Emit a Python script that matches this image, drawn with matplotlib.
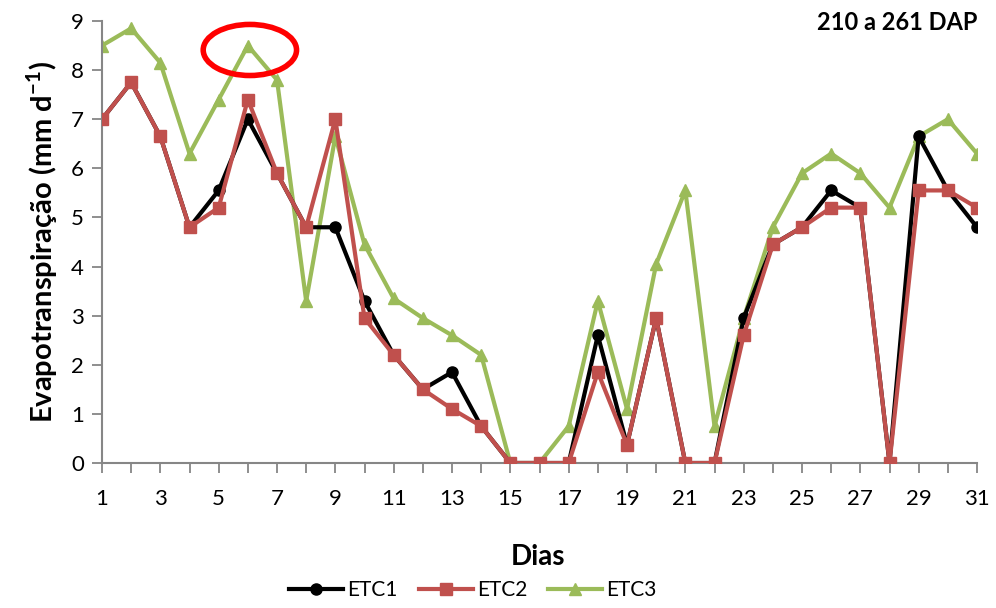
import matplotlib
matplotlib.use("Agg")
import matplotlib.pyplot as plt
from matplotlib.patches import Ellipse

plt.rcParams['font.family'] = ['Lato', 'DejaVu Sans']
plt.rcParams['mathtext.fontset'] = 'custom'
plt.rcParams['mathtext.rm'] = 'Lato'
plt.rcParams['mathtext.bf'] = 'Lato:bold'

dias = list(range(1, 32))
etc1 = [7.0, 7.75, 6.65, 4.8, 5.55, 7.0, 5.9, 4.8, 4.8, 3.3, 2.2, 1.5, 1.85, 0.75, 0, 0, 0,
        2.6, 0.37, 2.95, 0, 0, 2.95, 4.45, 4.8, 5.55, 5.2, 0, 6.65, 5.55, 4.8]
etc2 = [7.0, 7.75, 6.65, 4.8, 5.2, 7.4, 5.9, 4.8, 7.0, 2.95, 2.2, 1.5, 1.1, 0.75, 0, 0, 0,
        1.85, 0.37, 2.95, 0, 0, 2.6, 4.45, 4.8, 5.2, 5.2, 0, 5.55, 5.55, 5.2]
etc3 = [8.5, 8.85, 8.15, 6.3, 7.4, 8.5, 7.8, 3.3, 6.65, 4.45, 3.35, 2.95, 2.6, 2.2, 0, 0, 0.75,
        3.3, 1.1, 4.05, 5.55, 0.75, 2.95, 4.8, 5.9, 6.3, 5.9, 5.2, 6.65, 7.0, 6.3]
series_names = ["ETC1", "ETC2", "ETC3"]
yticks = list(range(0, 10))

fig = plt.figure(figsize=(9.96, 6.08), dpi=100)
ax = fig.add_axes([102/996, 1-463/608, (977-102)/996, (463-21)/608])

ax.plot(dias, etc1, color='black', lw=3, marker='o', ms=8, label=series_names[0], zorder=3)
ax.plot(dias, etc2, color='#C0504D', lw=3, marker='s', ms=9, label=series_names[1], zorder=4)
ax.plot(dias, etc3, color='#9BBB59', lw=3, marker='^', ms=9, label=series_names[2], zorder=2)

ax.add_patch(Ellipse((6.07, 8.41), 3.2, 1.04, fill=False, edgecolor='red', lw=4, zorder=5))

ax.set_xlim(1, 31)
ax.set_ylim(0, 9)
ax.set_xticks(dias)
ax.set_xticklabels([str(d) if d % 2 == 1 else '' for d in dias], fontsize=16)
ax.set_yticks(yticks)
ax.set_yticklabels([str(v) for v in yticks], fontsize=16)
ax.tick_params(axis='both', direction='out', length=7, color='#868686', width=1.3)
ax.tick_params(axis='x', pad=12)
ax.tick_params(axis='y', pad=6)
for s in ['top', 'right']:
    ax.spines[s].set_visible(False)
for s in ['left', 'bottom']:
    ax.spines[s].set_color('#868686')
    ax.spines[s].set_linewidth(1.5)
for s in ax.get_xticklabels() + ax.get_yticklabels():
    s.set_clip_on(False)

ax.set_ylabel('Evapotranspiração (mm d$^{\\mathbf{-1}}$)', fontsize=21, fontweight='bold', labelpad=8)
fig.text(0.54, 1-557/608, 'Dias', fontsize=20, fontweight='bold', ha='center', va='center')
fig.text(977/996, 1-22/608, '210 a 261 DAP', fontsize=17, fontweight='bold', ha='right', va='center')

fig.legend(loc='center', bbox_to_anchor=(0.475, 1-590/608), ncol=3, frameon=False,
           fontsize=15, handlelength=2.6, columnspacing=1.0, handletextpad=0.2)

fig.savefig('out.png', dpi=100)
